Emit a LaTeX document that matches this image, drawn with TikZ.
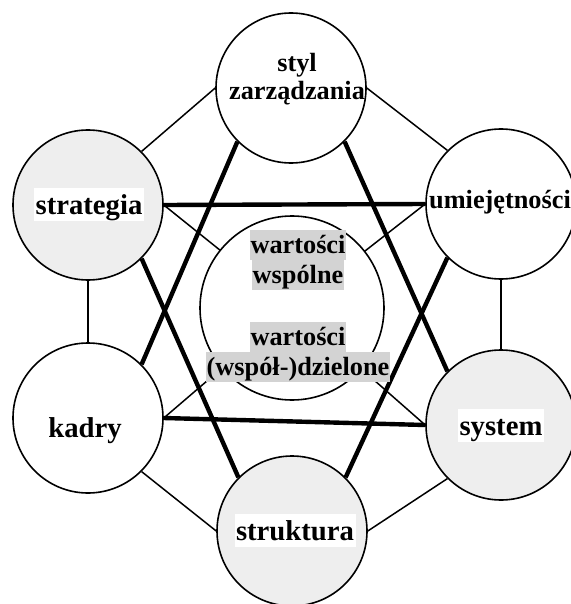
\documentclass[tikz,border=0pt]{standalone}
\usepackage{fontspec}
\setmainfont{Liberation Serif}
\usetikzlibrary{backgrounds}
\definecolor{lightfill}{RGB}{238,238,238}
\definecolor{labelgray}{RGB}{211,211,211}
\begin{document}
\begin{tikzpicture}[x=1bp,y=-1bp,
  circ/.style={circle,draw=black,line width=1.6bp,fill=white,minimum size=150bp,inner sep=0pt},
  gcirc/.style={circ,fill=lightfill},
  thinline/.style={line width=1.5bp},
  thickline/.style={line width=4.4bp},
  bigtxt/.style={font=\fontsize{28.7bp}{30bp}\selectfont\bfseries,anchor=base,inner sep=0pt},
  smalltxt/.style={font=\fontsize{26.3bp}{30bp}\selectfont\bfseries,anchor=base,inner sep=0pt},
  whitebg/.style={fill=white,text height=26bp,text depth=7bp,inner xsep=1.5bp},
  graybg/.style={fill=labelgray,text height=23bp,text depth=7bp,inner xsep=0.5bp}]
\useasboundingbox (0,0) rectangle (571,604);
% circles
\node[circ]  (S) at (291,88)  {};
\node[gcirc] (G) at (88,205)  {};
\node[circ]  (U) at (501,204) {};
\node[gcirc] (Y) at (501,425) {};
\node[gcirc] (T) at (292,531) {};
\node[circ]  (K) at (88,418)  {};
\node[circ,minimum size=184bp] (C) at (292,308) {};
% connectors
\begin{scope}[on background layer]
  \draw[thinline] (G.north east) -- (S.west);
  \draw[thinline] (S.east) -- (U.north west);
  \draw[thinline] (U.south) -- (Y.north);
  \draw[thinline] (Y.south west) -- (T.east);
  \draw[thinline] (T.west) -- (K.south east);
  \draw[thinline] (K.north) -- (G.south);
  \draw[thinline] (G.east) -- (C.center);
  \draw[thinline] (U.west) -- (C.center);
  \draw[thinline] (K.east) -- (C.center);
  \draw[thinline] (Y.west) -- (C.center);
  \draw[thickline] (S.south west) -- (K.north east);
  \draw[thickline] (S.south east) -- (Y.north west);
  \draw[thickline] (K.east) -- (Y.west);
  \draw[thickline] (G.east) -- (U.west);
  \draw[thickline] (G.south east) -- (T.north west);
  \draw[thickline] (U.south west) -- (T.north east);
\end{scope}
% labels
\node[smalltxt] (tS1) at (297,72)  {styl};
\node[smalltxt] (tS2) at (297,100) {zarządzania};
\node[bigtxt,whitebg] (tG) at (89,214) {strategia};
\node[smalltxt] (tU) at (500,208) {umiejętności};
\node[bigtxt,whitebg] (tY) at (501,435) {system};
\node[bigtxt,whitebg] (tT) at (295,540) {struktura};
\node[bigtxt] (tK) at (85,437) {kadry};
\node[smalltxt,graybg] (tC1) at (298,253) {wartości};
\node[smalltxt,graybg] (tC2) at (298,283) {wspólne};
\node[smalltxt,graybg] (tC3) at (298,345) {wartości};
\node[smalltxt,graybg] (tC4) at (298,375) {(współ-)dzielone};
\end{tikzpicture}
\end{document}
